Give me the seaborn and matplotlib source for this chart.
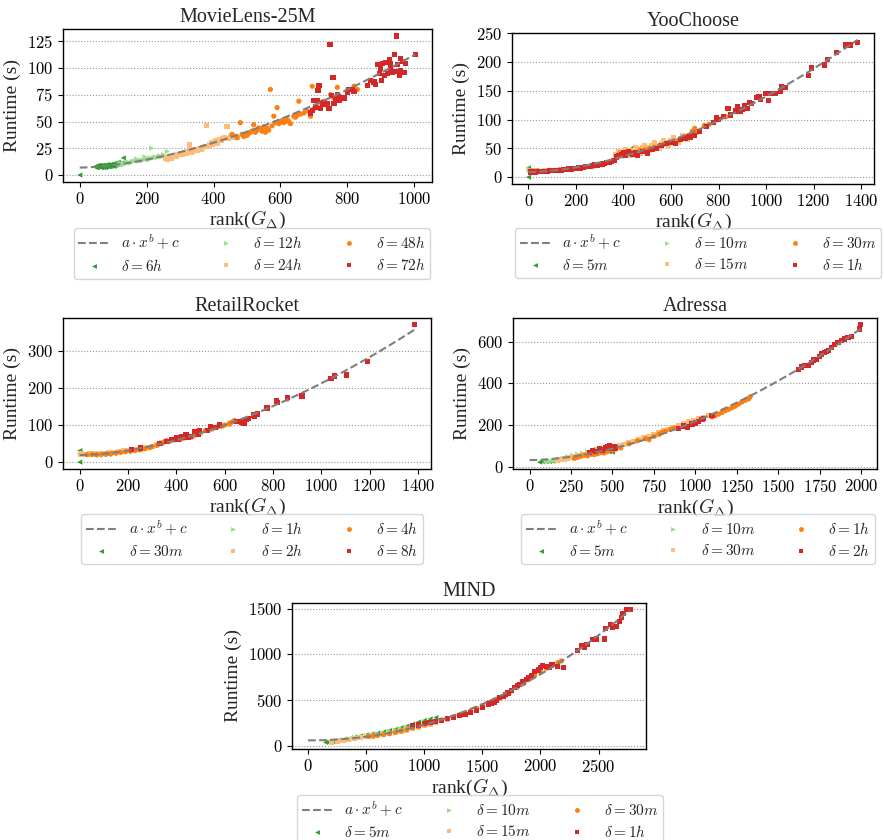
import numpy as np
import pandas as pd
import matplotlib
matplotlib.use("Agg")
import matplotlib.pyplot as plt
from matplotlib.lines import Line2D
from matplotlib.ticker import MultipleLocator, FuncFormatter
import seaborn as sns

# ---------------------------------------------------------------------------
# Measured runtimes: (rank(G_Delta), runtime in seconds) per window size delta
# ---------------------------------------------------------------------------

# MovieLens-25M
ML_DELTAS = ["6h", "12h", "24h", "48h", "72h"]
ML_6H = [(0, 0), (46, 8), (48, 7), (50, 8), (52, 7), (54, 9), (55, 8), (57, 8), (58, 9), (60, 8),
         (62, 7), (63, 9), (65, 7), (66, 8), (68, 9), (70, 8), (71, 7), (72, 9), (74, 8), (75, 8),
         (77, 7), (78, 9), (80, 8), (82, 10), (83, 8), (85, 9), (87, 8), (88, 8), (90, 9),
         (92, 10), (93, 8), (95, 9), (97, 9), (98, 10), (100, 9), (102, 8), (103, 10), (105, 11),
         (107, 9), (108, 10), (110, 11), (113, 10), (115, 12), (118, 11), (120, 10), (125, 11),
         (130, 16)]
ML_12H = [(118, 10), (122, 11), (126, 10), (130, 11), (135, 10), (140, 12), (145, 12), (150, 11),
          (155, 12), (160, 13), (165, 13), (170, 15), (175, 13), (180, 14), (185, 13), (190, 14),
          (195, 17), (200, 15), (205, 14), (210, 16), (215, 25), (220, 16), (225, 17), (230, 16),
          (235, 17), (240, 18), (245, 17), (250, 19), (255, 18), (262, 22)]
ML_24H = [(258, 16), (263, 15), (268, 17), (273, 16), (278, 17), (283, 18), (288, 17), (293, 19),
          (298, 19), (303, 20), (308, 19), (313, 21), (318, 20), (323, 22), (328, 28), (333, 21),
          (338, 22), (343, 24), (348, 24), (353, 23), (358, 25), (363, 24), (368, 26), (373, 27),
          (378, 46), (383, 27), (388, 28), (393, 30), (398, 29), (403, 31), (408, 32), (413, 30),
          (418, 33), (423, 32), (428, 34), (433, 35), (440, 45), (445, 34), (450, 36), (455, 35),
          (460, 37), (465, 36), (470, 35)]
ML_48H = [(455, 38), (470, 35), (480, 49), (485, 38), (490, 36), (495, 38), (500, 37), (505, 39),
          (510, 40), (515, 41), (520, 47), (525, 40), (530, 42), (535, 44), (540, 43), (545, 41),
          (550, 45), (555, 40), (560, 44), (565, 42), (570, 80), (575, 46), (580, 55), (585, 49),
          (590, 63), (595, 48), (600, 50), (605, 51), (610, 49), (615, 50), (620, 52), (625, 50),
          (630, 48), (640, 55), (645, 54), (650, 56), (655, 69), (660, 57), (670, 58), (680, 60),
          (690, 55), (695, 83), (700, 62), (710, 64), (720, 68), (730, 69), (740, 65), (750, 75),
          (760, 72), (770, 82), (780, 73), (800, 79), (820, 83), (830, 80)]
ML_72H = [(690, 58), (695, 60), (700, 70), (705, 63), (710, 70), (712, 79), (715, 84), (720, 62),
          (725, 67), (730, 68), (735, 66), (740, 67), (745, 62), (748, 122), (752, 74), (757, 91),
          (760, 67), (765, 72), (770, 75), (772, 73), (775, 70), (790, 72), (800, 77), (805, 80),
          (815, 80), (820, 78), (860, 84), (870, 88), (880, 87), (885, 85), (890, 103), (895, 95),
          (900, 100), (903, 88), (905, 104), (910, 93), (915, 105), (920, 95), (925, 108),
          (928, 100), (930, 104), (935, 96), (940, 113), (945, 97), (948, 130), (950, 103),
          (955, 93), (958, 109), (960, 98), (965, 106), (970, 96), (975, 104), (1003, 113)]

# YooChoose
YC_DELTAS = ["5m", "10m", "15m", "30m", "1h"]
YC_5M = [(0, 0), (0, 16), (5, 12), (10, 11), (30, 10), (60, 11), (100, 12), (150, 13), (200, 15),
         (250, 18), (270, 18), (300, 21), (340, 25), (380, 40), (400, 45), (420, 42), (440, 52)]
YC_10M = [(2, 14), (20, 11), (50, 11), (80, 12), (120, 13), (160, 14), (200, 16), (240, 18),
          (280, 20), (320, 23), (360, 28), (390, 42), (430, 46), (470, 50), (510, 52)]
YC_15M = [(5, 12), (30, 11), (70, 11), (110, 12), (150, 13), (190, 15), (230, 17), (270, 19),
          (310, 22), (350, 27), (365, 40), (370, 38), (380, 45), (390, 36), (400, 42), (410, 48),
          (420, 47), (430, 38), (440, 45), (450, 52), (460, 48), (470, 42), (480, 52), (490, 55),
          (500, 50), (510, 46), (520, 55), (530, 60), (540, 52), (550, 50), (560, 58), (570, 64),
          (580, 60), (590, 56), (600, 64), (610, 68), (620, 62), (630, 60), (640, 66), (650, 72),
          (660, 70), (670, 66), (680, 72), (690, 80), (700, 78)]
YC_30M = [(8, 11), (40, 11), (90, 12), (130, 13), (170, 14), (210, 16), (250, 18), (290, 21),
          (330, 25), (370, 36), (385, 42), (410, 40), (430, 44), (450, 42), (470, 47), (490, 48),
          (510, 50), (530, 52), (550, 55), (570, 57), (590, 60), (610, 62), (630, 64), (650, 68),
          (670, 72), (690, 80), (700, 85), (710, 78), (740, 90), (760, 92), (780, 95), (800, 100),
          (830, 105)]
YC_1H = [(10, 9), (20, 9), (30, 9), (40, 10), (50, 10), (60, 10), (70, 10), (80, 10), (90, 11),
         (100, 11), (110, 11), (120, 12), (130, 12), (140, 12), (150, 13), (160, 13), (170, 14),
         (180, 14), (190, 15), (200, 15), (210, 16), (220, 16), (230, 17), (240, 18), (250, 18),
         (260, 19), (270, 20), (280, 21), (290, 21), (300, 22), (310, 23), (320, 24), (330, 25),
         (340, 26), (350, 27), (360, 29), (370, 35), (380, 38), (390, 40), (400, 42), (410, 38),
         (420, 44), (430, 41), (440, 40), (450, 43), (460, 38), (480, 45), (500, 42), (520, 48),
         (540, 50), (560, 55), (580, 58), (600, 60), (620, 58), (640, 65), (660, 68), (680, 70),
         (700, 72), (720, 80), (750, 88), (780, 95), (790, 103), (800, 100), (820, 105),
         (840, 120), (850, 108), (870, 115), (880, 122), (890, 115), (900, 118), (910, 125),
         (920, 120), (930, 130), (940, 128), (960, 138), (970, 140), (975, 135), (1000, 145),
         (1010, 133), (1020, 145), (1040, 146), (1060, 150), (1065, 158), (1080, 156),
         (1180, 177), (1190, 190), (1245, 195), (1260, 205), (1295, 217), (1335, 230),
         (1355, 230), (1385, 234)]

# RetailRocket
RR_DELTAS = ["30m", "1h", "2h", "4h", "8h"]
RR_30M = [(0, 0), (0, 31), (3, 25), (5, 20), (60, 19), (80, 19), (100, 20), (120, 21)]
RR_1H = [(2, 22), (20, 21), (40, 20), (60, 20), (80, 21), (100, 21), (120, 22)]
RR_2H = [(5, 22), (20, 20), (40, 22), (60, 22), (80, 22), (100, 23), (120, 25), (140, 26),
         (160, 28), (180, 30), (200, 31), (220, 33), (240, 35), (260, 38), (280, 40), (300, 43),
         (320, 47), (340, 52), (360, 55), (380, 58), (400, 60), (430, 65), (460, 68), (500, 78),
         (540, 87), (580, 95), (620, 103)]
RR_4H = [(30, 20), (50, 21), (70, 20), (90, 21), (110, 22), (130, 23), (150, 24), (170, 26),
         (190, 28), (210, 29), (230, 31), (250, 33), (270, 36), (290, 39), (300, 42), (320, 45),
         (340, 50), (350, 55), (360, 58), (370, 55), (390, 60), (420, 62), (450, 67), (470, 70),
         (490, 75), (520, 85), (550, 90), (570, 95), (590, 97), (600, 100), (620, 104),
         (630, 108), (640, 112), (660, 110), (860, 170)]
RR_8H = [(215, 33), (250, 38), (330, 50), (360, 55), (380, 60), (395, 62), (400, 65), (410, 60),
         (420, 68), (430, 66), (435, 70), (440, 75), (445, 68), (450, 66), (460, 70), (475, 83),
         (490, 75), (495, 85), (530, 85), (540, 97), (560, 93), (580, 100), (650, 110),
         (670, 108), (680, 105), (690, 115), (700, 118), (720, 127), (725, 122), (735, 130),
         (775, 146), (815, 165), (820, 160), (860, 175), (920, 178), (1040, 226), (1055, 232),
         (1105, 235), (1190, 272), (1385, 370)]

# Adressa
AD_DELTAS = ["5m", "10m", "30m", "1h", "2h"]
AD_5M = [(60, 22), (80, 23), (100, 24), (120, 25), (140, 26), (200, 38), (250, 45), (300, 55),
         (330, 62), (360, 72), (380, 82), (400, 78), (420, 76), (450, 74), (480, 72), (500, 70)]
AD_10M = [(100, 25), (120, 27), (140, 28), (160, 30), (180, 35), (200, 40), (230, 48), (260, 55),
          (290, 60), (320, 65), (350, 72), (380, 80), (410, 85), (440, 90), (470, 93), (500, 95),
          (530, 98)]
AD_30M = [(170, 32), (190, 34), (210, 37), (230, 40), (250, 44), (270, 47), (300, 52), (330, 58),
          (360, 62), (390, 68), (420, 75), (450, 80), (480, 88), (510, 95), (540, 100),
          (570, 108), (600, 115), (630, 122), (660, 130), (690, 138), (720, 145), (750, 152),
          (780, 162), (810, 172), (840, 180), (870, 188), (900, 196), (930, 205), (960, 215),
          (990, 222), (1020, 230), (1050, 235), (1080, 245)]
AD_1H = [(270, 40), (290, 45), (310, 50), (330, 55), (350, 52), (370, 60), (390, 58), (410, 62),
         (430, 68), (450, 66), (470, 72), (500, 80), (520, 85), (550, 90), (600, 110), (650, 125),
         (700, 135), (720, 130), (750, 145), (780, 155), (800, 165), (820, 170), (850, 180),
         (870, 185), (1100, 238), (1120, 245), (1140, 252), (1160, 260), (1180, 268),
         (1200, 275), (1220, 282), (1240, 290), (1260, 300), (1280, 310), (1300, 318),
         (1320, 325), (1330, 335)]
AD_2H = [(360, 68), (380, 78), (400, 72), (420, 85), (440, 80), (460, 90), (470, 95), (480, 100),
         (490, 88), (500, 92), (510, 97), (520, 90), (900, 185), (930, 195), (950, 190),
         (980, 205), (1000, 210), (1020, 215), (1040, 225), (1050, 232), (1100, 245),
         (1620, 466), (1640, 478), (1660, 485), (1680, 486), (1700, 500), (1710, 512),
         (1730, 515), (1750, 530), (1760, 540), (1780, 548), (1790, 552), (1800, 558),
         (1820, 570), (1840, 585), (1860, 595), (1880, 605), (1900, 612), (1920, 620),
         (1940, 625), (1990, 660), (1995, 680)]

# MIND
MI_DELTAS = ["5m", "10m", "15m", "30m", "1h"]
MI_5M = [(150, 40), (170, 42), (190, 45), (210, 50), (250, 58), (300, 68), (350, 80), (400, 95),
         (450, 108), (500, 120), (550, 130), (600, 142), (650, 155), (700, 168), (750, 182),
         (800, 200), (850, 218), (900, 240), (950, 262), (1000, 280), (1050, 295), (1100, 310)]
MI_10M = [(250, 60), (300, 70), (350, 80), (400, 95), (450, 105), (500, 115), (550, 125),
          (600, 135), (650, 145), (700, 160), (750, 175), (800, 190), (850, 205), (900, 220),
          (950, 240), (1000, 260)]
MI_15M = [(200, 45), (250, 52), (300, 60), (350, 70), (400, 80), (450, 90), (500, 100),
          (550, 108), (600, 115), (650, 125), (700, 140), (750, 150), (800, 160), (850, 175),
          (900, 190), (950, 205), (1000, 225), (1050, 240), (1100, 258), (1150, 275), (1200, 295),
          (1250, 315), (1300, 335), (1350, 355), (1400, 380), (1450, 405), (1500, 430),
          (1550, 460), (1600, 490), (1650, 520), (1700, 555)]
MI_30M = [(520, 105), (560, 110), (600, 118), (650, 125), (700, 135), (750, 150), (800, 165),
          (850, 180), (900, 200), (950, 215), (1000, 235), (1050, 250), (1100, 265), (1150, 285),
          (1200, 300), (1250, 320), (1300, 340), (1350, 360), (1400, 380), (1450, 410),
          (1500, 440), (1550, 470), (1600, 500), (1650, 525), (1700, 560), (1750, 600),
          (1800, 640), (1850, 680), (1900, 730), (1950, 770), (2000, 810), (2050, 850),
          (2100, 880), (2150, 910), (2180, 930)]
MI_1H = [(900, 225), (950, 230), (1000, 250), (1050, 260), (1100, 265), (1150, 280), (1200, 300),
         (1250, 315), (1300, 330), (1350, 345), (1400, 365), (1450, 390), (1500, 420),
         (1550, 460), (1580, 470), (1600, 480), (1620, 500), (1650, 530), (1680, 545),
         (1700, 560), (1720, 580), (1750, 610), (1780, 640), (1800, 660), (1820, 670),
         (1850, 700), (1880, 730), (1900, 750), (1920, 770), (1950, 810), (1980, 830),
         (2000, 860), (2020, 880), (2050, 870), (2080, 860), (2100, 890), (2150, 870),
         (2200, 860), (2320, 1040), (2350, 1100), (2380, 1080), (2400, 1110), (2450, 1160),
         (2480, 1170), (2550, 1170), (2560, 1280), (2600, 1330), (2620, 1300), (2650, 1310),
         (2680, 1360), (2700, 1400), (2710, 1450), (2740, 1490), (2770, 1490)]

# ---------------------------------------------------------------------------
# Styling
# ---------------------------------------------------------------------------
SERIES_COLORS = ["#2ca02c", "#98df8a", "#ffbb78", "#ff7f0e", "#d62728"]
SERIES_MARKERS = ["<", ">", "s", "o", "s"]
FIT_COLOR = "#7f7f7f"

sns.set_style("ticks")
plt.rcParams.update({
    "font.family": ["Liberation Serif", "DejaVu Serif"],
    "mathtext.fontset": "cm",
    "axes.edgecolor": "black",
    "axes.linewidth": 1.0,
    "xtick.color": "black",
    "ytick.color": "black",
    "xtick.major.size": 3.5,
    "ytick.major.size": 3.5,
})

FIG_W, FIG_H = 884, 840
fig = plt.figure(figsize=(FIG_W / 100, FIG_H / 100), dpi=100)

# name, deltas, series, axes box (left, top, right, bottom) px, x step, y step, legend centre x, legend top
PANELS = [
    ("MovieLens-25M", ML_DELTAS, [ML_6H, ML_12H, ML_24H, ML_48H, ML_72H],
     (63, 29, 432, 182), 200, 25, 252, 228),
    ("YooChoose", YC_DELTAS, [YC_5M, YC_10M, YC_15M, YC_30M, YC_1H],
     (512, 33, 874, 184), 200, 50, 698, 228),
    ("RetailRocket", RR_DELTAS, [RR_30M, RR_1H, RR_2H, RR_4H, RR_8H],
     (63, 318, 431, 469), 200, 100, 252, 514),
    ("Adressa", AD_DELTAS, [AD_5M, AD_10M, AD_30M, AD_1H, AD_2H],
     (513, 318, 877, 469), 250, 200, 698, 514),
    ("MIND", MI_DELTAS, [MI_5M, MI_10M, MI_15M, MI_30M, MI_1H],
     (292, 603, 646, 749), 500, 500, 480, 795),
]


def power_fit(x, y):
    """Least-squares fit of y = a * x**b + c (grid over b, linear in a and c)."""
    best = None
    for b in np.linspace(1.0, 3.0, 801):
        A = np.column_stack([x ** b, np.ones_like(x)])
        coef, *_ = np.linalg.lstsq(A, y, rcond=None)
        sse = np.sum((A @ coef - y) ** 2)
        if best is None or sse < best[0]:
            best = (sse, coef[0], b, coef[1])
    return best[1:]


tick_fmt = FuncFormatter(lambda v, p: f"${v:.0f}$")

for title, deltas, series, (l, t, r, b), xstep, ystep, lcx, ltop in PANELS:
    ax = fig.add_axes([l / FIG_W, 1 - b / FIG_H, (r - l) / FIG_W, (b - t) / FIG_H])

    frames = []
    for d, pts in zip(deltas, series):
        arr = np.asarray(pts, dtype=float)
        frames.append(pd.DataFrame({"rank": arr[:, 0], "runtime": arr[:, 1], "delta": d}))
    df = pd.concat(frames, ignore_index=True)

    sns.scatterplot(data=df, x="rank", y="runtime", hue="delta", style="delta",
                    hue_order=deltas, style_order=deltas,
                    palette=dict(zip(deltas, SERIES_COLORS)),
                    markers=dict(zip(deltas, SERIES_MARKERS)),
                    s=14, linewidth=0, legend=False, ax=ax, zorder=2)

    a, bexp, c = power_fit(df["rank"].to_numpy(), df["runtime"].to_numpy())
    xs = np.linspace(0, df["rank"].max(), 300)
    ax.plot(xs, a * xs ** bexp + c, ls="--", color=FIT_COLOR, lw=1.5, zorder=3)

    ax.xaxis.set_major_locator(MultipleLocator(xstep))
    ax.yaxis.set_major_locator(MultipleLocator(ystep))
    ax.xaxis.set_major_formatter(tick_fmt)
    ax.yaxis.set_major_formatter(tick_fmt)
    ax.tick_params(labelsize=12, width=0.8)
    ax.yaxis.grid(True, ls=":", color="#9a9a9a", lw=0.8)
    ax.set_axisbelow(True)
    for sp in ax.spines.values():
        sp.set_visible(True)
        sp.set_color("black")

    ax.set_title(title, fontsize=14.5, pad=5)
    ax.set_xlabel(r"rank($G_\Delta$)", fontsize=14, labelpad=1)
    ax.set_ylabel("Runtime (s)", fontsize=14, labelpad=4)

    handles = [Line2D([], [], ls="--", color=FIT_COLOR, lw=1.5)]
    handles += [Line2D([], [], ls="", marker=m, color=col, markersize=3.5, markeredgewidth=0)
                for m, col in zip(SERIES_MARKERS, SERIES_COLORS)]
    leg_labels = [r"$a \cdot x^b + c$"] + [rf"$\delta = {d}$" for d in deltas]
    ax.legend(handles, leg_labels, loc="upper center", ncol=3, fontsize=11,
              bbox_to_anchor=(lcx / FIG_W, 1 - ltop / FIG_H), bbox_transform=fig.transFigure,
              borderaxespad=0, handlelength=2.0, handletextpad=0.8, columnspacing=2.0,
              labelspacing=0.4, borderpad=0.3,
              frameon=True, edgecolor="#cccccc", fancybox=True)

fig.savefig("out.png", dpi=100)
